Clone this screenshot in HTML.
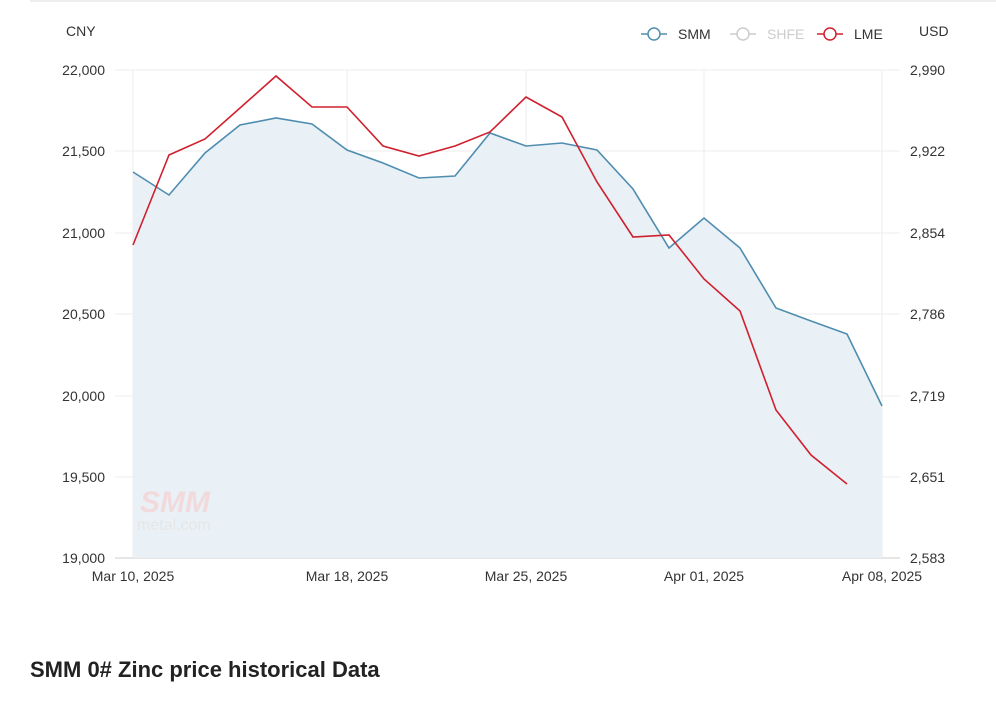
<!DOCTYPE html>
<html><head><meta charset="utf-8"><style>
body{margin:0;background:#fff;width:996px;height:697px;overflow:hidden;font-family:"Liberation Sans",sans-serif}
</style></head><body>
<svg width="996" height="697" viewBox="0 0 996 697" xmlns="http://www.w3.org/2000/svg" font-family="Liberation Sans, sans-serif">
<line x1="30" y1="1" x2="996" y2="1" stroke="#ddd"/>
<g stroke="#eee" stroke-width="1">
<line x1="115" y1="70" x2="900" y2="70"/><line x1="115" y1="151" x2="900" y2="151"/><line x1="115" y1="233" x2="900" y2="233"/><line x1="115" y1="314" x2="900" y2="314"/><line x1="115" y1="396" x2="900" y2="396"/><line x1="115" y1="477" x2="900" y2="477"/>
<line x1="133" y1="70" x2="133" y2="558"/><line x1="347" y1="70" x2="347" y2="558"/><line x1="526" y1="70" x2="526" y2="558"/><line x1="704" y1="70" x2="704" y2="558"/><line x1="882" y1="70" x2="882" y2="558"/>
</g>
<line x1="115" y1="558" x2="900" y2="558" stroke="#ccc"/>
<polygon fill="#e9f1f6" points="133,558 133,172 169,195 205,153 240,125 276,118 312,124 347,150 383,163 419,178 455,176 490,133 526,146 562,143 597,150 633,189 669,248 704,218 740,248 776,308 811,321 847,334 882,406 882,558"/>
<polyline fill="none" stroke="#4f8db0" stroke-width="1.6" points="133,172 169,195 205,153 240,125 276,118 312,124 347,150 383,163 419,178 455,176 490,133 526,146 562,143 597,150 633,189 669,248 704,218 740,248 776,308 811,321 847,334 882,406"/>
<polyline fill="none" stroke="#d0202e" stroke-width="1.6" points="133,245 169,155 205,139 240,108 276,76 312,107 347,107 383,146 419,156 455,146 490,132 526,97 562,117 597,182 633,237 669,235 704,279 740,311 776,410 811,455 847,484"/>
<text x="140" y="512" font-size="30" font-weight="bold" fill="#f1d9dc" font-style="italic">SMM</text>
<text x="137" y="530" font-size="16" fill="#e6e6e6">metal.com</text>
<g font-size="14" fill="#333" text-anchor="end">
<text x="105" y="75">22,000</text><text x="105" y="156">21,500</text><text x="105" y="238">21,000</text><text x="105" y="319">20,500</text><text x="105" y="401">20,000</text><text x="105" y="482">19,500</text><text x="105" y="563">19,000</text>
</g>
<g font-size="14" fill="#333">
<text x="910" y="75">2,990</text><text x="910" y="156">2,922</text><text x="910" y="238">2,854</text><text x="910" y="319">2,786</text><text x="910" y="401">2,719</text><text x="910" y="482">2,651</text><text x="910" y="563">2,583</text>
<text x="66" y="36">CNY</text><text x="919" y="36">USD</text>
</g>
<g font-size="14" fill="#333" text-anchor="middle">
<text x="133" y="581">Mar 10, 2025</text><text x="347" y="581">Mar 18, 2025</text><text x="526" y="581">Mar 25, 2025</text><text x="704" y="581">Apr 01, 2025</text><text x="882" y="581">Apr 08, 2025</text>
</g>
<g font-size="14">
<line x1="641" y1="34" x2="667" y2="34" stroke="#4f8db0" stroke-width="1.5"/><circle cx="654" cy="34" r="6" fill="#fff" stroke="#4f8db0" stroke-width="1.5"/><text x="678" y="39" fill="#333">SMM</text>
<line x1="730" y1="34" x2="756" y2="34" stroke="#ccc" stroke-width="1.5"/><circle cx="743" cy="34" r="6" fill="#fff" stroke="#ccc" stroke-width="1.5"/><text x="767" y="39" fill="#ccc">SHFE</text>
<line x1="817" y1="34" x2="843" y2="34" stroke="#d0202e" stroke-width="1.5"/><circle cx="830" cy="34" r="6" fill="#fff" stroke="#d0202e" stroke-width="1.5"/><text x="854" y="39" fill="#333">LME</text>
</g>
<text x="30" y="677" font-size="22" font-weight="bold" fill="#222">SMM 0# Zinc price historical Data</text>
</svg>
</body></html>
